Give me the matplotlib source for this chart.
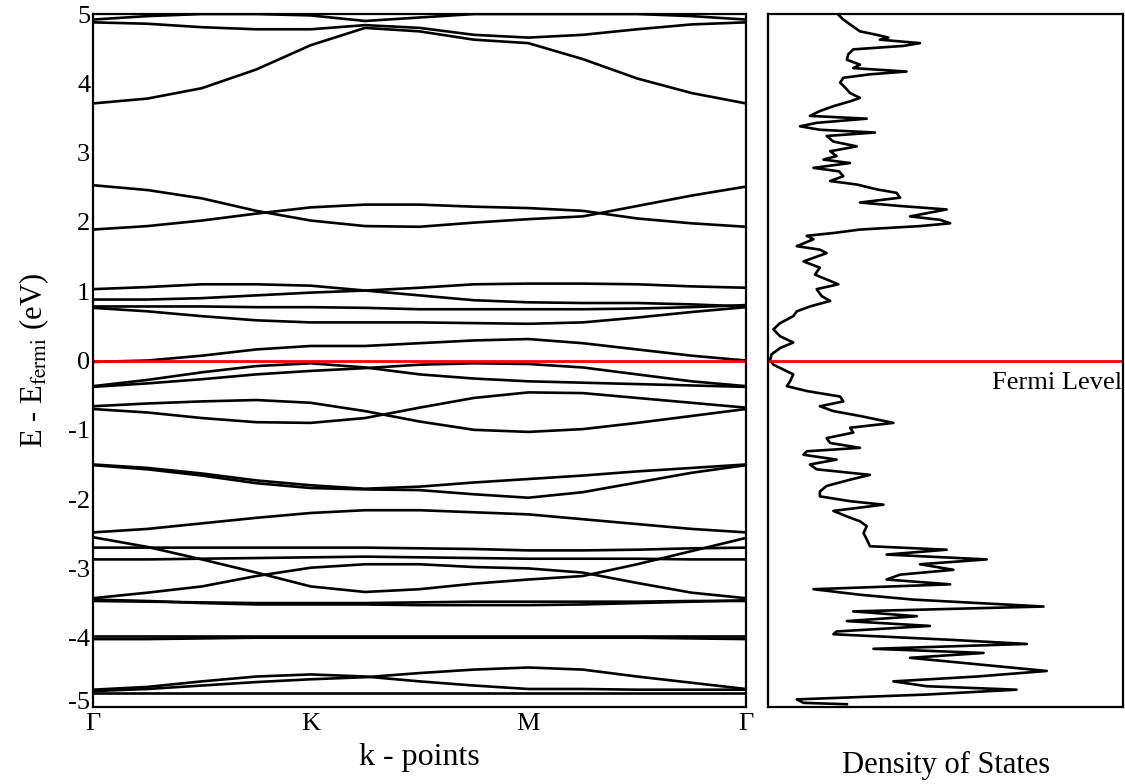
import matplotlib
matplotlib.use("Agg")
import matplotlib.pyplot as plt
import matplotlib.transforms as mtransforms

plt.rcParams['font.family'] = 'Liberation Serif'
plt.rcParams['mathtext.fontset'] = 'stix'
plt.rcParams['axes.unicode_minus'] = False

# k-path: G -> K -> M -> G, sampled every quarter segment
k_path = [0, 0.25, 0.5, 0.75, 1.0, 1.25, 1.5, 1.75, 2.0, 2.25, 2.5, 2.75, 3.0]
k_ticks = [0, 1, 2, 3]
k_labels = ['Γ', 'K', 'M', 'Γ']

# band energies (eV, relative to E_fermi) read at the k_path points
band_t1 = [4.92, 4.97, 5.0, 5.0, 4.98, 4.9, 4.95, 5.0, 5.0, 5.0, 5.0, 4.97, 4.92]
band_t2 = [4.88, 4.86, 4.81, 4.78, 4.78, 4.84, 4.8, 4.7, 4.66, 4.7, 4.78, 4.85, 4.88]
band_a = [3.71, 3.78, 3.93, 4.2, 4.55, 4.8, 4.75, 4.63, 4.58, 4.35, 4.07, 3.86, 3.71]
band_b1 = [2.53, 2.46, 2.34, 2.16, 2.02, 1.94, 1.93, 1.99, 2.04, 2.08, 2.23, 2.38, 2.51]
band_b2 = [1.89, 1.94, 2.02, 2.12, 2.21, 2.25, 2.25, 2.22, 2.2, 2.16, 2.05, 1.98, 1.93]
band_c1 = [1.03, 1.06, 1.1, 1.1, 1.08, 1.01, 1.05, 1.1, 1.11, 1.11, 1.1, 1.07, 1.05]
band_c2 = [0.88, 0.88, 0.9, 0.94, 0.98, 1.01, 0.94, 0.87, 0.84, 0.83, 0.83, 0.81, 0.78]
band_c3 = [0.78, 0.78, 0.78, 0.77, 0.77, 0.76, 0.74, 0.74, 0.74, 0.74, 0.75, 0.77, 0.8]
band_c4 = [0.76, 0.71, 0.64, 0.58, 0.55, 0.55, 0.55, 0.54, 0.53, 0.55, 0.62, 0.7, 0.77]
band_d = [-0.02, 0.0, 0.07, 0.16, 0.21, 0.21, 0.25, 0.29, 0.31, 0.25, 0.16, 0.07, 0.0]
band_e1 = [-0.37, -0.28, -0.17, -0.08, -0.04, -0.1, -0.2, -0.26, -0.3, -0.32, -0.34, -0.36, -0.38]
band_e2 = [-0.38, -0.33, -0.27, -0.2, -0.15, -0.11, -0.06, -0.04, -0.05, -0.1, -0.2, -0.3, -0.37]
band_f1 = [-0.66, -0.62, -0.59, -0.57, -0.61, -0.73, -0.88, -1.0, -1.03, -0.99, -0.9, -0.8, -0.7]
band_f2 = [-0.7, -0.75, -0.83, -0.89, -0.9, -0.83, -0.68, -0.54, -0.46, -0.47, -0.54, -0.61, -0.68]
band_g1 = [-1.5, -1.55, -1.63, -1.73, -1.8, -1.85, -1.82, -1.76, -1.71, -1.66, -1.6, -1.55, -1.5]
band_g2 = [-1.51, -1.57, -1.66, -1.77, -1.84, -1.86, -1.87, -1.93, -1.98, -1.9, -1.76, -1.62, -1.51]
band_h = [-2.48, -2.43, -2.35, -2.27, -2.2, -2.16, -2.16, -2.19, -2.22, -2.29, -2.36, -2.43, -2.48]
band_i1 = [-2.55, -2.69, -2.87, -3.06, -3.26, -3.34, -3.3, -3.22, -3.16, -3.11, -2.94, -2.75, -2.56]
band_i2 = [-3.43, -3.35, -3.26, -3.11, -2.99, -2.94, -2.94, -2.98, -3.0, -3.06, -3.21, -3.35, -3.43]
band_j1 = [-2.7, -2.7, -2.7, -2.7, -2.7, -2.7, -2.71, -2.72, -2.74, -2.74, -2.73, -2.71, -2.7]
band_j2 = [-2.87, -2.87, -2.86, -2.85, -2.84, -2.83, -2.84, -2.85, -2.86, -2.86, -2.86, -2.87, -2.87]
band_k1 = [-3.45, -3.47, -3.5, -3.52, -3.52, -3.52, -3.53, -3.53, -3.53, -3.52, -3.5, -3.48, -3.46]
band_k2 = [-3.47, -3.48, -3.49, -3.5, -3.5, -3.5, -3.49, -3.48, -3.48, -3.48, -3.48, -3.47, -3.47]
band_l1 = [-3.98, -3.98, -3.98, -3.98, -3.98, -3.98, -3.98, -3.98, -3.98, -3.98, -3.98, -3.98, -3.98]
band_l2 = [-4.02, -4.02, -4.01, -4.0, -4.0, -4.0, -4.0, -4.0, -4.0, -4.0, -4.0, -4.01, -4.02]
band_m1 = [-4.75, -4.71, -4.63, -4.56, -4.53, -4.56, -4.63, -4.69, -4.74, -4.74, -4.75, -4.75, -4.75]
band_m2 = [-4.77, -4.74, -4.69, -4.64, -4.6, -4.57, -4.51, -4.46, -4.43, -4.46, -4.56, -4.65, -4.74]
band_m3 = [-4.8, -4.8, -4.8, -4.8, -4.8, -4.8, -4.8, -4.8, -4.8, -4.8, -4.8, -4.8, -4.8]

bands = [band_t1, band_t2, band_a, band_b1, band_b2, band_c1, band_c2, band_c3,
         band_c4, band_d, band_e1, band_e2, band_f1, band_f2, band_g1, band_g2,
         band_h, band_i1, band_i2, band_j1, band_j2, band_k1, band_k2, band_l1,
         band_l2, band_m1, band_m2, band_m3]

# density of states, read top to bottom
dos_energy = [4.99, 4.92, 4.85, 4.75, 4.70, 4.66, 4.63, 4.58, 4.54, 4.49, 4.42, 4.34,
              4.27, 4.22, 4.17, 4.13, 4.08, 4.01, 3.94, 3.86, 3.79, 3.74, 3.67, 3.60,
              3.53, 3.49, 3.43, 3.38, 3.33, 3.29, 3.24, 3.16, 3.09, 3.02, 2.95, 2.90,
              2.85, 2.78, 2.73, 2.66, 2.59, 2.54, 2.47, 2.42, 2.35, 2.28, 2.23, 2.18,
              2.08, 2.03, 1.98, 1.94, 1.89, 1.84, 1.80, 1.75, 1.65, 1.60, 1.55, 1.43,
              1.34, 1.24, 1.10, 1.03, 0.93, 0.86, 0.78, 0.71, 0.64, 0.54, 0.45, 0.35,
              0.26, 0.18, 0.09, 0.01, -0.06, -0.13, -0.20, -0.30, -0.37, -0.44, -0.52,
              -0.59, -0.66, -0.73, -0.80, -0.90, -0.97, -1.04, -1.12, -1.19, -1.26,
              -1.31, -1.36, -1.43, -1.50, -1.57, -1.65, -1.72, -1.81, -1.89, -1.96,
              -2.03, -2.08, -2.17, -2.25, -2.32, -2.39, -2.49, -2.58, -2.68, -2.73,
              -2.80, -2.87, -2.94, -3.02, -3.09, -3.16, -3.23, -3.30, -3.38, -3.45,
              -3.55, -3.62, -3.69, -3.76, -3.83, -3.91, -3.95, -4.03, -4.09, -4.16,
              -4.22, -4.29, -4.36, -4.48, -4.56, -4.63, -4.70, -4.75, -4.82, -4.89,
              -4.94, -4.96]
dos_value = [1.98, 2.12, 2.31, 2.59, 3.06, 3.39, 3.15, 4.28, 3.81, 2.40, 2.26, 2.22,
             2.59, 2.40, 3.90, 2.87, 2.12, 2.03, 2.17, 2.31, 2.59, 2.31, 1.84, 1.46,
             1.18, 2.78, 1.37, 0.90, 1.46, 3.01, 1.65, 1.84, 2.50, 1.75, 1.93, 1.56,
             2.31, 1.28, 2.00, 2.12, 1.75, 2.50, 3.06, 3.62, 3.72, 2.59, 3.72, 5.03,
             4.00, 4.85, 5.13, 4.28, 2.59, 1.84, 1.09, 1.28, 0.81, 1.46, 1.65, 1.00,
             1.46, 1.32, 1.98, 1.37, 1.51, 1.75, 1.18, 0.81, 0.71, 0.34, 0.15, 0.34,
             0.71, 0.34, 0.10, 0.06, 0.15, 0.43, 0.71, 0.62, 0.53, 1.09, 2.03,
             2.12, 1.46, 1.84, 2.59, 3.53, 2.31, 2.40, 1.65, 1.75, 2.59,
             1.09, 1.00, 1.93, 1.18, 1.37, 2.87, 2.31, 1.65, 1.46, 1.46,
             2.31, 3.25, 1.84, 2.22, 2.59, 2.78, 2.69, 2.78, 2.87, 5.03,
             3.34, 6.16, 4.28, 5.22, 3.72, 3.34, 5.13, 1.28, 2.59, 4.09,
             7.76, 2.40, 4.19, 2.22, 4.56, 1.93, 1.84, 5.13, 7.29, 2.97,
             6.07, 4.00, 5.41, 7.85, 5.88, 3.53, 4.47, 7.00, 4.47, 0.81,
             1.00, 2.22]

fig = plt.figure(figsize=(11.25, 7.84), dpi=100)
ax_band = fig.add_axes([0.0827, 0.0982, 0.5804, 0.8839])
ax_dos = fig.add_axes([0.6827, 0.0982, 0.3156, 0.8839])

for band in bands:
    ax_band.plot(k_path, band, color='black', lw=1.9, solid_joinstyle='round')
ax_band.axhline(0, color='red', lw=2)

ax_band.set_xlim(0, 3)
ax_band.set_ylim(-5, 5)
ax_band.set_xticks(k_ticks)
ax_band.set_xticklabels(k_labels)
ax_band.set_yticks(range(-5, 6))
ax_band.tick_params(length=0, labelsize=19, pad=2)
ax_band.tick_params(axis='x', pad=4)
ax_band.set_xlabel('k - points', fontsize=23, labelpad=6)
ax_band.set_ylabel(r'E - E$_{\mathrm{fermi}}$ (eV)', fontsize=22, labelpad=12)

# nudge the bottom y label up so it clears the first k label
lift = mtransforms.ScaledTranslation(0, 5 / 72, fig.dpi_scale_trans)
bottom_label = ax_band.get_yticklabels()[0]
bottom_label.set_transform(bottom_label.get_transform() + lift)

ax_dos.plot(dos_value, dos_energy, color='black', lw=1.9)
ax_dos.axhline(0, color='red', lw=2)
ax_dos.set_xlim(0, 10)
ax_dos.set_ylim(-5, 5)
ax_dos.set_xticks([])
ax_dos.set_yticks([])
ax_dos.set_xlabel('Density of States', fontsize=22, labelpad=32)
ax_dos.text(9.98, -0.16, 'Fermi Level', ha='right', va='top', fontsize=19)

for ax in (ax_band, ax_dos):
    for spine in ax.spines.values():
        spine.set_linewidth(1.6)

fig.savefig('out.png', dpi=100)
